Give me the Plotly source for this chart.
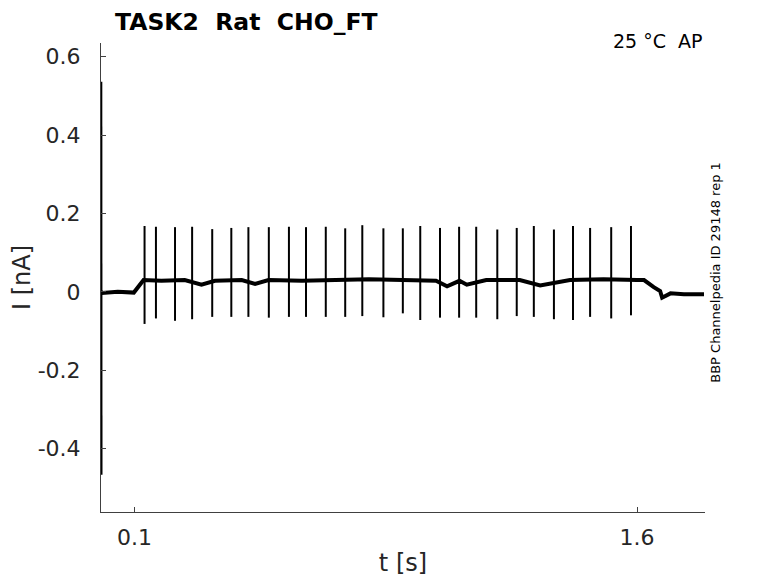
import plotly.graph_objs as go

# spike (stimulus artefact) times in s, with their peak and trough currents in nA
spike_t = [0.130, 0.164, 0.221, 0.272, 0.332, 0.389, 0.440, 0.501, 0.561,
           0.612, 0.671, 0.729, 0.780, 0.843, 0.901, 0.953, 1.012, 1.069,
           1.120, 1.183, 1.241, 1.292, 1.352, 1.409, 1.460, 1.523, 1.582]
spike_peak = [0.168, 0.166, 0.165, 0.166, 0.160, 0.163, 0.165, 0.165, 0.166,
              0.165, 0.166, 0.162, 0.170, 0.162, 0.162, 0.168, 0.163, 0.166,
              0.166, 0.159, 0.163, 0.168, 0.159, 0.168, 0.163, 0.165, 0.168]
spike_trough = [-0.082, -0.068, -0.074, -0.070, -0.064, -0.064, -0.064, -0.066, -0.064,
                -0.064, -0.064, -0.064, -0.062, -0.065, -0.055, -0.072, -0.066, -0.066,
                -0.066, -0.070, -0.062, -0.064, -0.070, -0.072, -0.064, -0.068, -0.060]

# slow baseline current
base_t = [0.000, 0.004, 0.050, 0.098, 0.127, 0.180, 0.250, 0.300, 0.340, 0.420,
          0.460, 0.500, 0.600, 0.700, 0.800, 0.900, 1.000, 1.033, 1.070, 1.092,
          1.150, 1.250, 1.311, 1.400, 1.500, 1.600, 1.621, 1.650, 1.669, 1.675,
          1.700, 1.740, 1.800]
base_v = [0.000, -0.003, 0.000, -0.002, 0.030, 0.028, 0.030, 0.018, 0.028, 0.030,
          0.020, 0.030, 0.028, 0.030, 0.032, 0.030, 0.028, 0.014, 0.028, 0.018,
          0.030, 0.030, 0.016, 0.030, 0.032, 0.030, 0.030, 0.012, 0.002, -0.015,
          -0.004, -0.006, -0.006]

# capacitive transient at the very start
trans_t = [0.0010, 0.0015]
trans_v = [0.536, -0.467]

y_ticks = [-0.4, -0.2, 0, 0.2, 0.4, 0.6]
y_labels = ['-0.4', '-0.2', '0', '0.2', '0.4', '0.6']
x_ticks = [0.1, 1.6]
x_labels = ['0.1', '1.6']

# build the spike segments
sx, sy = [], []
for t, p, q in zip(spike_t, spike_peak, spike_trough):
    sx += [t, t, None]
    sy += [p, q, None]

data = [
    go.Scatter(x=base_t, y=base_v, mode='lines',
               line=dict(color='black', width=4), showlegend=False),
    go.Scatter(x=sx, y=sy, mode='lines',
               line=dict(color='black', width=2), showlegend=False),
    go.Scatter(x=trans_t, y=trans_v, mode='lines',
               line=dict(color='black', width=2), showlegend=False),
]

font = 'DejaVu Sans'
axis_style = dict(
    showline=True, linecolor='#404040', linewidth=1,
    ticks='inside', ticklen=5, tickcolor='#404040',
    showgrid=False, zeroline=False, mirror=False, automargin=False,
    tickfont=dict(family=font, size=22, color='#262626'),
)

# page body adds an 8px offset, so the figure is 8px smaller than the window
W, H = 770, 575

layout = go.Layout(
    width=W, height=H,
    margin=dict(l=93, r=73, t=35, b=71),
    plot_bgcolor='white', paper_bgcolor='white',
    title=dict(text='TASK2\u00a0\u00a0Rat\u00a0\u00a0CHO_FT', x=107 / W, xanchor='left',
               xref='container', y=1 - 14 / H, yanchor='middle', pad=dict(l=0, r=0, t=0, b=0),
               font=dict(family=font, size=23.5, color='black', weight='bold')),
    xaxis=dict(range=[0, 1.803], tickvals=x_ticks, ticktext=x_labels,
               ticklabelstandoff=6,
               title=dict(text='t [s]', standoff=4,
                          font=dict(family=font, size=24, color='#262626')),
               **axis_style),
    yaxis=dict(range=[-0.562, 0.635], tickvals=y_ticks, ticktext=y_labels,
               ticklabelstandoff=15,
               title=dict(text='I [nA]', standoff=10,
                          font=dict(family=font, size=24, color='#262626')),
               **axis_style),
    annotations=[
        dict(text='25 °C\u00a0\u00a0AP', xref='paper', yref='paper', x=1.0, y=1.004,
             xanchor='right', yanchor='middle', showarrow=False,
             font=dict(family=font, size=19, color='black')),
        dict(text='BBP Channelpedia ID 29148 rep 1', xref='paper', yref='paper',
             x=1.018, y=0.512, xanchor='center', yanchor='middle', textangle=-90,
             showarrow=False, font=dict(family=font, size=13, color='black')),
    ],
)

fig = go.Figure(data=data, layout=layout)
fig.write_html('out.html')
